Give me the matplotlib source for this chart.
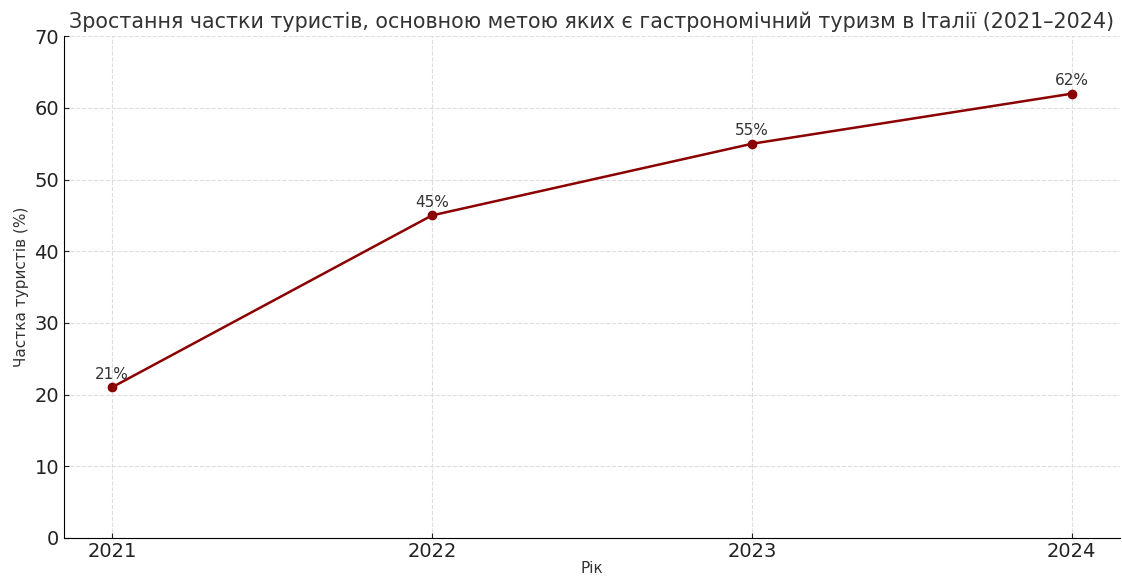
import matplotlib.pyplot as plt

roky = [2021, 2022, 2023, 2024]
chastka = [21, 45, 55, 62]
pidpysy = ["21%", "45%", "55%", "62%"]

fig, ax = plt.subplots(figsize=(11.22, 5.77), dpi=100)
fig.subplots_adjust(left=0.057, right=0.998, top=0.937, bottom=0.068)

ax.plot(roky, chastka, color="darkred", linewidth=1.8, marker="o", markersize=6)
for x, y, t in zip(roky, chastka, pidpysy):
    ax.annotate(t, (x, y), textcoords="offset points", xytext=(0, 6),
                ha="center", fontsize=11, color="#333333")

ax.set_title("Зростання частки туристів, основною метою яких є гастрономічний туризм в Італії (2021–2024)",
             fontsize=14.9, color="#333333", pad=6)
ax.set_xlabel("Рік", fontsize=11, color="#333333", labelpad=0)
ax.set_ylabel("Частка туристів (%)", fontsize=11, color="#333333")
ax.set_xticks(roky)
ax.set_ylim(0, 70)
ax.tick_params(direction="in", labelsize=14, colors="#222222")
ax.tick_params(axis="x", pad=3)
ax.grid(True, linestyle="--", color="#dddddd", linewidth=0.8)
ax.spines["top"].set_visible(False)
ax.spines["right"].set_visible(False)

fig.savefig("out.png")
